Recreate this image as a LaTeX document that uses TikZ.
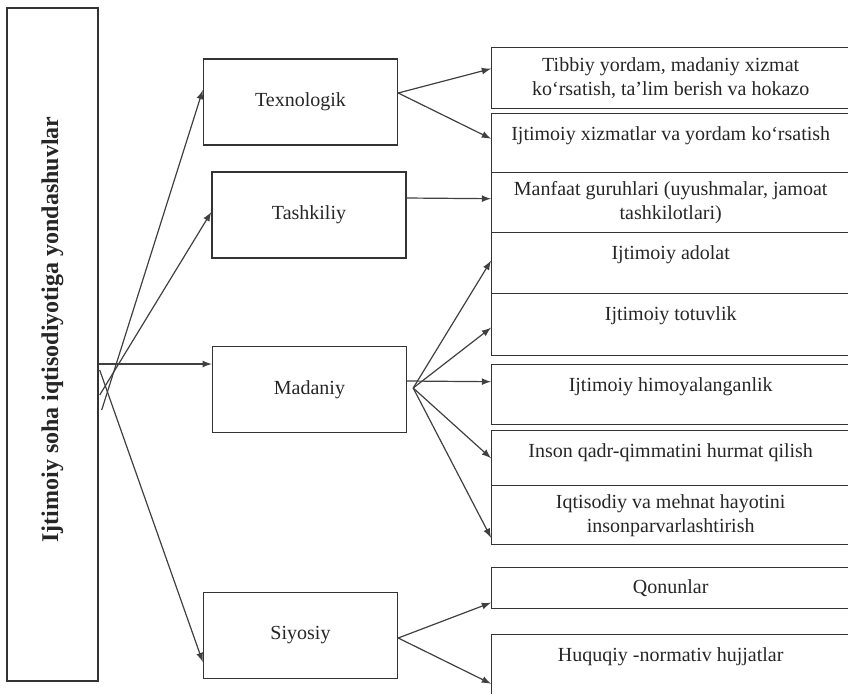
\documentclass[tikz,border=0pt]{standalone}
\usepackage{fontspec}
\setmainfont{Liberation Serif}
\usetikzlibrary{arrows,positioning}
\tikzset
{
	mainbox/.style = {draw=black!80, line width=0.7pt, minimum width=45.5pt, minimum height=336.5pt, inner sep=0pt, text=black!85},
	groupbox/.style = {draw=black!80, line width=0.7pt, align=center, minimum width=97pt, minimum height=43pt, text=black!85},
	itembox/.style = {draw=black!80, line width=0.7pt, align=center, anchor=north west, minimum width=179pt, inner xsep=2pt, text=black!85},
	midbox/.style = {itembox, minimum height=#1},
	topbox/.style = {itembox, inner ysep=0pt, text height=13.3pt, text depth=#1},
	link/.style = {->, >=latex, draw=black!75, line width=0.6pt}
}

\begin{document}
\begin{tikzpicture}[x=0.5pt, y=-0.5pt]
\useasboundingbox (0,0) rectangle (848,693);
% left column
\node[mainbox, text depth=15pt] (root) at (52.5,344.5) {\rotatebox{90}{\fontsize{12}{14}\selectfont\bfseries Ijtimoiy soha iqtisodiyotiga yondashuvlar}\hspace{14pt}};
% approaches
\node[groupbox] (tex) at (300.5,102) {Texnologik};
\node[groupbox] (tash) at (309,215) {Tashkiliy};
\node[groupbox] (mad) at (309.5,389.5) {Madaniy};
\node[groupbox] (siy) at (300.5,635.5) {Siyosiy};
% right column
\node[midbox=30.5pt] (tibbiy) at (491,47) {Tibbiy yordam, madaniy xizmat\\ko‘rsatish, ta’lim berish va hokazo};
\node[topbox=16.2pt] (xizmat) at (491,113) {Ijtimoiy xizmatlar va yordam ko‘rsatish};
\node[midbox=30pt] (manfaat) at (491,172) {Manfaat guruhlari (uyushmalar, jamoat\\tashkilotlari)};
\node[topbox=17.2pt] (adolat) at (491,232) {Ijtimoiy adolat};
\node[topbox=17.7pt] (totuv) at (491,293) {Ijtimoiy totuvlik};
\node[topbox=16.7pt] (himoya) at (491,364) {Ijtimoiy himoyalanganlik};
\node[topbox=14.2pt] (qadr) at (491,430) {Inson qadr-qimmatini hurmat qilish};
\node[midbox=29.5pt] (hayot) at (491,485) {Iqtisodiy va mehnat hayotini\\insonparvarlashtirish};
\node[midbox=20.5pt] (qonun) at (491,567) {Qonunlar};
\node[topbox=17.2pt] (huquq) at (491,634) {Huquqiy -normativ hujjatlar};
% links from the left column
\draw[link] ([xshift=1.5pt,yshift=-32.75pt]root.east) -- ([yshift=6pt]tex.west);
\draw[link] ([xshift=0.5pt,yshift=-25.25pt]root.east) -- ([yshift=1.5pt]tash.west);
\draw[link] ([yshift=-9.75pt]root.east) -- ([yshift=12.75pt]mad.west);
\draw[link] ([xshift=0.5pt,yshift=-12.75pt]root.east) -- ([yshift=-13.25pt]siy.west);
% links to the right column
\draw[link] ([yshift=4.5pt]tex.east) -- ([yshift=4.75pt]tibbiy.west);
\draw[link] ([yshift=4.5pt]tex.east) -- ([yshift=2.25pt]xizmat.west);
\draw[link] ([yshift=8.5pt]tash.east) -- ([yshift=2pt]manfaat.west);
\draw[link] ([yshift=4.25pt]mad.east) -- ([yshift=6.5pt]himoya.west);
\coordinate (mhub) at ([xshift=3pt,yshift=0.75pt]mad.east);
\draw[link] (mhub) -- ([yshift=1.25pt]adolat.west);
\draw[link] (mhub) -- ([yshift=-1.5pt]totuv.west);
\draw[link] (mhub) -- (qadr.west);
\draw[link] (mhub) -- ([yshift=-11.25pt]hayot.west);
\draw[link] ([yshift=-1.25pt]siy.east) -- ([yshift=-7.25pt]qonun.west);
\draw[link] ([yshift=-1.25pt]siy.east) -- ([yshift=-9.25pt]huquq.west);
\end{tikzpicture}
\end{document}
